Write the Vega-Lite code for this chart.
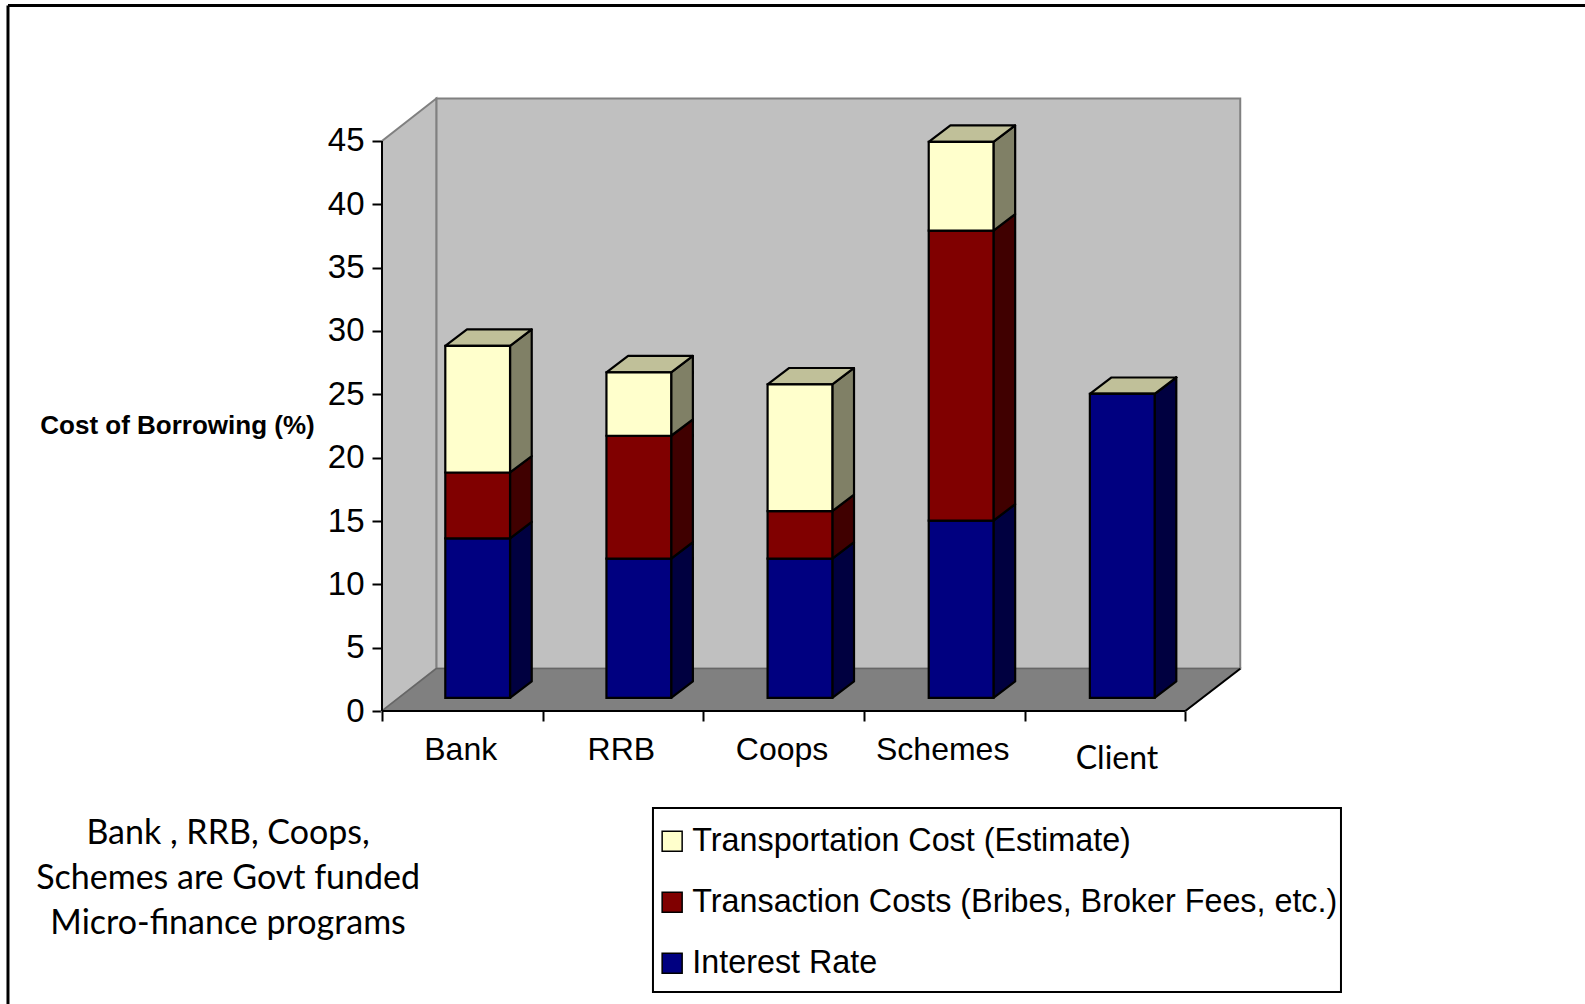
{
  "$schema": "https://vega.github.io/schema/vega-lite/v6.json",
  "width": 1585,
  "height": 1004,
  "autosize": {"type": "none"},
  "padding": 0,
  "background": "white",
  "data": {"values": [{}]},
  "datasets": {
    "costs": [
      {"category": "Bank", "series": "Interest Rate", "value": 12.6},
      {"category": "Bank", "series": "Transaction Costs (Bribes, Broker Fees, etc.)", "value": 5.2},
      {"category": "Bank", "series": "Transportation Cost (Estimate)", "value": 10},
      {"category": "RRB", "series": "Interest Rate", "value": 11},
      {"category": "RRB", "series": "Transaction Costs (Bribes, Broker Fees, etc.)", "value": 9.7},
      {"category": "RRB", "series": "Transportation Cost (Estimate)", "value": 5},
      {"category": "Coops", "series": "Interest Rate", "value": 11},
      {"category": "Coops", "series": "Transaction Costs (Bribes, Broker Fees, etc.)", "value": 3.75},
      {"category": "Coops", "series": "Transportation Cost (Estimate)", "value": 10},
      {"category": "Schemes", "series": "Interest Rate", "value": 14},
      {"category": "Schemes", "series": "Transaction Costs (Bribes, Broker Fees, etc.)", "value": 22.9},
      {"category": "Schemes", "series": "Transportation Cost (Estimate)", "value": 7},
      {"category": "Client", "series": "Interest Rate", "value": 24},
      {"category": "Client", "series": "Transaction Costs (Bribes, Broker Fees, etc.)", "value": 0},
      {"category": "Client", "series": "Transportation Cost (Estimate)", "value": 0}
    ],
    "depth": [{"d": 0}, {"d": 1}],
    "note": [
      {"line": "Bank , RRB, Coops,", "row": 0},
      {"line": "Schemes are Govt funded", "row": 1},
      {"line": "Micro-finance programs", "row": 2}
    ]
  },
  "layer": [
    {
      "description": "Page frame",
      "mark": {"type": "rule", "stroke": "black", "strokeWidth": 3},
      "encoding": {
        "x": {"datum": -2.328, "type": "quantitative", "title": null,
          "scale": {"domain": [-2.3777, 7.4879], "nice": false, "zero": false},
          "axis": {"values": [0, 1, 2, 3, 4, 5], "orient": "bottom", "offset": -293, "labels": false, "domain": false, "grid": false, "ticks": true, "tickSize": 10, "tickWidth": 2, "tickColor": "black", "title": null}},
        "x2": {"datum": 7.4879},
        "y": {"datum": 55.7, "type": "quantitative", "title": null,
          "scale": {"domain": [-23.13, 56.13], "nice": false, "zero": false},
          "axis": {"values": [0, 5, 10, 15, 20, 25, 30, 35, 40, 45], "orient": "left", "offset": -382, "domain": false, "grid": false, "tickSize": 10, "tickWidth": 2, "tickColor": "black", "labelFont": "Liberation Sans", "labelFontSize": 33, "labelColor": "black", "labelPadding": 8,
            "title": "Cost of Borrowing (%)", "titleFont": "Liberation Sans", "titleFontSize": 26, "titleFontWeight": "bold", "titleColor": "black", "titleAngle": 0, "titleX": -205, "titleY": 425, "titleAlign": "center", "titleBaseline": "middle"}}
      }
    },
    {
      "mark": {"type": "rule", "stroke": "black", "strokeWidth": 3},
      "encoding": {
        "x": {"datum": -2.328, "type": "quantitative", "axis": null},
        "y": {"datum": 55.7, "type": "quantitative", "axis": null},
        "y2": {"datum": -23.13}
      }
    },
    {
      "description": "Back wall",
      "mark": {"type": "rect", "fill": "#c0c0c0", "stroke": "#808080", "strokeWidth": 2},
      "encoding": {
        "x": {"datum": 0.338, "type": "quantitative", "axis": null},
        "x2": {"datum": 5.342},
        "y": {"datum": 3.34, "type": "quantitative", "axis": null},
        "y2": {"datum": 48.36}
      }
    },
    {
      "description": "Left wall",
      "data": {"name": "depth"},
      "transform": [
        {"calculate": "datum.d * 0.338", "as": "wx"},
        {"calculate": "datum.d * 3.35", "as": "wy0"},
        {"calculate": "45 + datum.d * 3.35", "as": "wy1"}
      ],
      "mark": {"type": "area", "fill": "#c0c0c0", "stroke": "#808080", "strokeWidth": 2},
      "encoding": {
        "x": {"field": "wx", "type": "quantitative", "axis": null},
        "y": {"field": "wy0", "type": "quantitative", "axis": null},
        "y2": {"field": "wy1"}
      }
    },
    {
      "description": "Floor",
      "data": {"name": "depth"},
      "transform": [
        {"calculate": "datum.d * 0.338", "as": "fx0"},
        {"calculate": "5 + datum.d * 0.338", "as": "fx1"},
        {"calculate": "datum.d * 3.35", "as": "fy"}
      ],
      "mark": {"type": "area", "orient": "horizontal", "fill": "#808080", "stroke": "#666666", "strokeWidth": 1.5},
      "encoding": {
        "y": {"field": "fy", "type": "quantitative", "axis": null},
        "x": {"field": "fx0", "type": "quantitative", "axis": null},
        "x2": {"field": "fx1"}
      }
    },
    {
      "description": "Value axis line",
      "mark": {"type": "rule", "stroke": "black", "strokeWidth": 2},
      "encoding": {
        "x": {"datum": 0, "type": "quantitative", "axis": null},
        "y": {"datum": 0, "type": "quantitative", "axis": null},
        "y2": {"datum": 45}
      }
    },
    {
      "description": "Category axis line",
      "mark": {"type": "rule", "stroke": "black", "strokeWidth": 2},
      "encoding": {
        "x": {"datum": 0, "type": "quantitative", "axis": null},
        "x2": {"datum": 5},
        "y": {"datum": 0, "type": "quantitative", "axis": null}
      }
    },
    {
      "description": "Right edge of the floor",
      "mark": {"type": "rule", "stroke": "black", "strokeWidth": 2},
      "encoding": {
        "x": {"datum": 5, "type": "quantitative", "axis": null},
        "x2": {"datum": 5.342},
        "y": {"datum": 0, "type": "quantitative", "axis": null},
        "y2": {"datum": 3.34}
      }
    },
    {
      "description": "Side faces of the stacked segments",
      "data": {"name": "costs"},
      "transform": [
        {"calculate": "indexof(['Bank','RRB','Coops','Schemes','Client'], datum.category)", "as": "idx"},
        {"calculate": "indexof(['Interest Rate','Transaction Costs (Bribes, Broker Fees, etc.)','Transportation Cost (Estimate)'], datum.series)", "as": "ord"},
        {"stack": "value", "groupby": ["category"], "sort": [{"field": "ord"}], "as": ["s0", "s1"]},
        {"calculate": "[0, 1]", "as": "d"},
        {"flatten": ["d"]},
        {"calculate": "datum.idx * 1.003 + 0.394 + 0.403 + datum.d * 0.135", "as": "sx"},
        {"calculate": "datum.s0 + 1.03 + datum.d * 1.3", "as": "sy0"},
        {"calculate": "datum.s1 + 1.03 + datum.d * 1.3", "as": "sy1"}
      ],
      "mark": {"type": "area", "stroke": "black", "strokeWidth": 2.2, "strokeJoin": "round", "opacity": 1},
      "encoding": {
        "x": {"field": "sx", "type": "quantitative", "axis": null},
        "y": {"field": "sy0", "type": "quantitative", "axis": null},
        "y2": {"field": "sy1"},
        "detail": {"field": "category"},
        "color": {"field": "series", "type": "nominal", "legend": null,
          "scale": {"domain": ["Transportation Cost (Estimate)", "Transaction Costs (Bribes, Broker Fees, etc.)", "Interest Rate"], "range": ["#808066", "#400000", "#000040"]}}
      }
    },
    {
      "description": "Top face of each column",
      "data": {"name": "costs"},
      "transform": [
        {"calculate": "indexof(['Bank','RRB','Coops','Schemes','Client'], datum.category)", "as": "idx"},
        {"joinaggregate": [{"op": "sum", "field": "value", "as": "total"}], "groupby": ["category"]},
        {"filter": "datum.series === 'Transportation Cost (Estimate)'"},
        {"calculate": "[0, 1]", "as": "d"},
        {"flatten": ["d"]},
        {"calculate": "datum.idx * 1.003 + 0.394 + datum.d * 0.135", "as": "tx0"},
        {"calculate": "datum.idx * 1.003 + 0.394 + 0.403 + datum.d * 0.135", "as": "tx1"},
        {"calculate": "datum.total + 1.03 + datum.d * 1.3", "as": "ty"}
      ],
      "mark": {"type": "area", "orient": "horizontal", "fill": "#c0c099", "stroke": "black", "strokeWidth": 2.2, "strokeJoin": "round"},
      "encoding": {
        "y": {"field": "ty", "type": "quantitative", "axis": null},
        "x": {"field": "tx0", "type": "quantitative", "axis": null},
        "x2": {"field": "tx1"},
        "detail": {"field": "category"}
      }
    },
    {
      "description": "Legend box",
      "mark": {"type": "rect", "fill": "white", "stroke": "black", "strokeWidth": 2},
      "encoding": {
        "x": {"datum": 1.6866, "type": "quantitative", "axis": null},
        "x2": {"datum": 5.9690},
        "y": {"datum": -7.66, "type": "quantitative", "axis": null},
        "y2": {"datum": -22.19}
      }
    },
    {
      "description": "Front faces of the stacked segments",
      "data": {"name": "costs"},
      "transform": [
        {"calculate": "indexof(['Bank','RRB','Coops','Schemes','Client'], datum.category)", "as": "idx"},
        {"calculate": "indexof(['Interest Rate','Transaction Costs (Bribes, Broker Fees, etc.)','Transportation Cost (Estimate)'], datum.series)", "as": "ord"},
        {"stack": "value", "groupby": ["category"], "sort": [{"field": "ord"}], "as": ["s0", "s1"]},
        {"calculate": "datum.idx * 1.003 + 0.394", "as": "bx0"},
        {"calculate": "datum.idx * 1.003 + 0.394 + 0.403", "as": "bx1"},
        {"calculate": "datum.s0 + 1.03", "as": "by0"},
        {"calculate": "datum.s1 + 1.03", "as": "by1"}
      ],
      "mark": {"type": "rect", "stroke": "black", "strokeWidth": 2.2},
      "encoding": {
        "x": {"field": "bx0", "type": "quantitative", "axis": null},
        "x2": {"field": "bx1"},
        "y": {"field": "by0", "type": "quantitative", "axis": null},
        "y2": {"field": "by1"},
        "color": {"field": "series", "type": "nominal",
          "scale": {"domain": ["Transportation Cost (Estimate)", "Transaction Costs (Bribes, Broker Fees, etc.)", "Interest Rate"], "range": ["#ffffcc", "#800000", "#000080"]},
          "legend": {"orient": "none", "legendX": 648, "legendY": 817, "title": null, "symbolType": "square", "symbolSize": 400, "symbolStrokeColor": "black", "symbolStrokeWidth": 1.5, "symbolOpacity": 1, "labelFont": "Liberation Sans", "labelFontSize": 32.3, "labelColor": "black", "labelLimit": 700, "rowPadding": 28, "labelOffset": 4, "padding": 8, "offset": 0}
        }
      }
    },
    {
      "description": "Category labels",
      "data": {"name": "costs"},
      "transform": [
        {"filter": "datum.series === 'Interest Rate' && datum.category !== 'Client'"},
        {"calculate": "indexof(['Bank','RRB','Coops','Schemes','Client'], datum.category) + 0.49", "as": "lx"}
      ],
      "mark": {"type": "text", "font": "Liberation Sans", "fontSize": 32, "color": "black", "align": "center", "baseline": "middle"},
      "encoding": {
        "x": {"field": "lx", "type": "quantitative", "axis": null},
        "y": {"datum": -3.08, "type": "quantitative", "axis": null},
        "text": {"field": "category"}
      }
    },
    {
      "description": "Client label, set in the rounder face",
      "data": {"name": "costs"},
      "transform": [
        {"filter": "datum.series === 'Interest Rate' && datum.category === 'Client'"},
        {"calculate": "indexof(['Bank','RRB','Coops','Schemes','Client'], datum.category) + 0.575", "as": "lx"}
      ],
      "mark": {"type": "text", "font": "Lato", "fontSize": 32, "color": "black", "align": "center", "baseline": "middle"},
      "encoding": {
        "x": {"field": "lx", "type": "quantitative", "axis": null},
        "y": {"datum": -3.76, "type": "quantitative", "axis": null},
        "text": {"field": "category"}
      }
    },
    {
      "description": "Side note about the programs",
      "data": {"name": "note"},
      "transform": [
        {"calculate": "-9.71 - datum.row * 3.55", "as": "ny"}
      ],
      "mark": {"type": "text", "font": "Lato", "fontSize": 34, "color": "black", "align": "center", "baseline": "middle"},
      "encoding": {
        "x": {"datum": -0.958, "type": "quantitative", "axis": null},
        "y": {"field": "ny", "type": "quantitative", "axis": null},
        "text": {"field": "line"}
      }
    }
  ],
  "resolve": {"scale": {"color": "independent"}, "axis": {"x": "independent", "y": "independent"}},
  "config": {"view": {"stroke": null}}
}
